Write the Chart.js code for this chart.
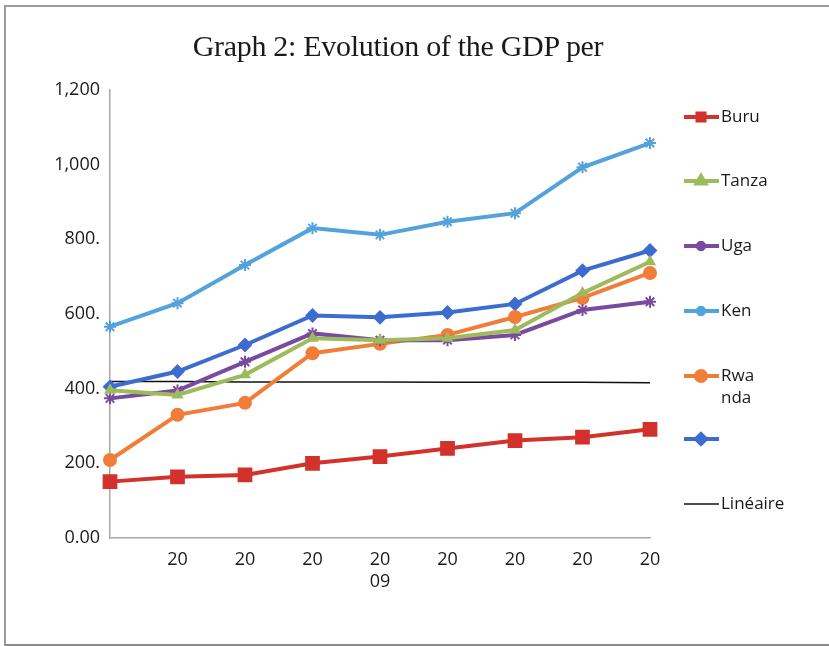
<!DOCTYPE html>
<html>
<head>
<meta charset="utf-8">
<script src="https://cdn.jsdelivr.net/npm/chart.js@4/dist/chart.umd.min.js"></script>
<style>
  html, body { margin: 0; padding: 0; background: #fff; }
  #wrap { position: relative; width: 829px; height: 646px; overflow: hidden; }
  #frame { position: absolute; left: 4px; top: 5px; width: 830px; height: 637px;
           border-left: 2px solid #9a9a9a; border-top: 2px solid #9a9a9a; border-bottom: 2px solid #8a8a8a; }
  #title { position: absolute; left: 0; width: 796px; top: 29px; text-align: center;
           font: 30px 'Liberation Serif', 'DejaVu Serif', serif; color: #1a1a1a; letter-spacing: -0.3px; }
  canvas { position: absolute; left: 0; top: 0; }
</style>
</head>
<body>
<div id="wrap">
  <div id="frame"></div>
  <canvas id="chart" width="829" height="646"></canvas>
  <div id="title">Graph 2: Evolution of the GDP per</div>
</div>
<script>
/* ── Data ─────────────────────────────────────────────────────── */
const years       = ['2005', '2006', '2007', '2008', '2009', '2010', '2011', '2012', '2013'];
const xTickLabels = ['', '20', '20', '20', ['20', '09'], '20', '20', '20', '20'];
const yTickLabels = { 0: '0.00', 200: '200.', 400: '400.', 600: '600.', 800: '800.', 1000: '1,000', 1200: '1,200' };

const buru     = [151, 164, 169, 200, 218, 240, 261, 270, 291];
const tanza    = [396, 383, 437, 535, 530, 535, 557, 656, 740];
const uga      = [374, 395, 472, 548, 530, 530, 544, 611, 633];
const ken      = [566, 629, 731, 830, 812, 847, 870, 993, 1058];
const rwanda   = [209, 330, 362, 495, 520, 544, 592, 643, 710];
const eac      = [405, 446, 517, 596, 591, 604, 627, 716, 770];
const lineaire = [419, 419, 418, 418, 418, 417, 417, 417, 416];

const FONT = "'Open Sans', 'Liberation Sans', sans-serif";

function series(label, data, color, style, radius, width, legendText) {
  return {
    label, data,
    legendText: legendText || [label],
    borderColor: color,
    backgroundColor: color,
    pointBackgroundColor: color,
    pointBorderColor: color,
    pointStyle: style,
    pointRadius: radius,
    pointBorderWidth: 2,
    borderWidth: width,
    tension: 0,
  };
}

/* ── Legend drawn at the right, Excel style ───────────────────── */
const sideLegend = {
  id: 'sideLegend',
  afterDraw(chart) {
    const ctx = chart.ctx;
    const rows = [117, 181, 246, 311, 376, 439, 504];
    ctx.save();
    ctx.font = '17px ' + FONT;
    ctx.textBaseline = 'middle';
    chart.data.datasets.forEach((ds, i) => {
      const y = rows[i];
      ctx.strokeStyle = ds.borderColor;
      ctx.lineWidth = ds.borderWidth;
      ctx.beginPath();
      ctx.moveTo(684, y);
      ctx.lineTo(719, y);
      ctx.stroke();
      if (ds.pointRadius > 0) {
        Chart.helpers.drawPoint(ctx, {
          pointStyle: ds.pointStyle, rotation: 0,
          radius: Math.min(ds.pointRadius, 5), borderWidth: 2,
        }, 701, y);
        ctx.fillStyle = ds.pointBackgroundColor;
        ctx.fill();
      }
      ctx.fillStyle = '#1a1a1a';
      ds.legendText.forEach((t, k) => ctx.fillText(t, 721, y + k * 22));
    });
    ctx.restore();
  }
};

new Chart(document.getElementById('chart'), {
  type: 'line',
  data: {
    labels: years,
    datasets: [
      series('Buru',     buru,     '#d2322b', 'rect',     9, 4),
      series('Tanza',    tanza,    '#9dbb5c', 'triangle', 5, 4),
      series('Uga',      uga,      '#7a4a9e', 'star',     6, 4),
      series('Ken',      ken,      '#54a2dc', 'star',     6, 4),
      series('Rwanda',   rwanda,   '#f07d38', 'circle',   6, 4, ['Rwa', 'nda']),
      series('',         eac,      '#3c6cd0', 'rectRot',  6, 4, ['']),
      series('Linéaire', lineaire, '#111111', 'circle',   0, 1.6),
    ],
  },
  options: {
    responsive: false,
    animation: false,
    layout: { padding: { left: 0, right: 179, top: 90, bottom: 0 } },
    plugins: {
      legend: { display: false },
      tooltip: { enabled: false },
      title: { display: false },
    },
    scales: {
      x: {
        offset: false,
        afterFit: (s) => { s.height = 108; },
        grid: { display: false, drawTicks: true, tickLength: 6, color: '#b0b0b0' },
        border: { display: true, color: '#a8a8a8', width: 1.5 },
        ticks: {
          color: '#1a1a1a',
          font: { family: FONT, size: 18 },
          padding: 5,
          maxRotation: 0,
          autoSkip: false,
          callback: (v, i) => xTickLabels[i],
        },
      },
      y: {
        min: 0, max: 1200,
        afterFit: (s) => { s.width = 110; },
        grid: { display: false, drawTicks: true, tickLength: 5, color: '#b0b0b0' },
        border: { display: true, color: '#a8a8a8', width: 1.5 },
        ticks: {
          stepSize: 200,
          color: '#1a1a1a',
          font: { family: FONT, size: 18 },
          padding: 5,
          callback: (v) => yTickLabels[v],
        },
      },
    },
  },
  plugins: [sideLegend],
});
</script>
</body>
</html>
